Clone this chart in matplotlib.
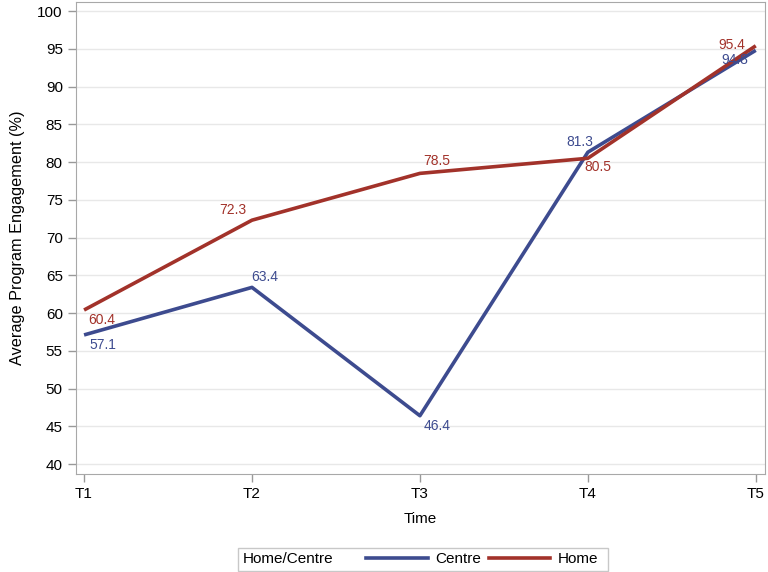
import matplotlib
matplotlib.use("Agg")
import matplotlib.pyplot as plt
from matplotlib.lines import Line2D
from matplotlib.patches import Rectangle

plt.rcParams['font.family'] = ['Liberation Sans', 'DejaVu Sans']

times = ["T1", "T2", "T3", "T4", "T5"]
centre = [57.1, 63.4, 46.4, 81.3, 94.8]
home = [60.4, 72.3, 78.5, 80.5, 95.4]

# label offsets in pixels (dx, dy)
centreOffsets = [(19, -10), (13, 10), (17, -10), (-8, 10), (-21, -10)]
homeOffsets = [(18, -10), (-19, 10), (17, 12), (10, -9), (-24, 1)]

blue = "#3D4B8F"
red = "#A2322A"

fig = plt.figure(figsize=(7.68, 5.72), dpi=100)
ax = fig.add_axes([76/768, 98/572, 689/768, 472/572])

x = list(range(1, len(times) + 1))
ax.plot(x, centre, color=blue, lw=2.6, solid_capstyle='butt', zorder=3)
ax.plot(x, home, color=red, lw=2.6, solid_capstyle='butt', zorder=4)

for xi, v, off in zip(x, centre, centreOffsets):
    ax.annotate(f"{v}", (xi, v), xytext=off, textcoords='offset pixels',
                ha='center', va='center', fontsize=10, color=blue, zorder=5)
for xi, v, off in zip(x, home, homeOffsets):
    ax.annotate(f"{v}", (xi, v), xytext=off, textcoords='offset pixels',
                ha='center', va='center', fontsize=10, color=red, zorder=5)

ax.set_xlim(0.952, 5.055)
ax.set_ylim(38.68, 101.2)
ax.set_xticks(x)
ax.set_xticklabels(times)
ax.set_yticks(range(40, 101, 5))
ax.tick_params(colors="#999999", labelcolor="black", labelsize=11, length=6, width=1)
ax.yaxis.grid(True, color="#E8E8E8", lw=1)
ax.set_axisbelow(True)
for s in ax.spines.values():
    s.set_color("#A8A8A8")

ax.set_xlabel("Time", fontsize=11, labelpad=8)
ax.set_ylabel("Average Program Engagement (%)", fontsize=11.7, labelpad=9)

# legend with inline title
fig.patches.append(Rectangle((238/768, 1 - 571/572), 370/768, 23/572,
                             transform=fig.transFigure, fill=False,
                             edgecolor="#C8C8C8", lw=1))
fig.text(243/768, 1 - 559/572, "Home/Centre", fontsize=11, va='center', ha='left')
handles = [Line2D([], [], color=blue, lw=2.6), Line2D([], [], color=red, lw=2.6)]
fig.legend(handles, ["Centre", "Home"], loc='center', bbox_to_anchor=(482/768, 1 - 559/572),
           ncol=2, frameon=False, fontsize=11, handlelength=4.05, columnspacing=0.5,
           handletextpad=0.45, borderpad=0)

fig.savefig("out.png", dpi=100)
